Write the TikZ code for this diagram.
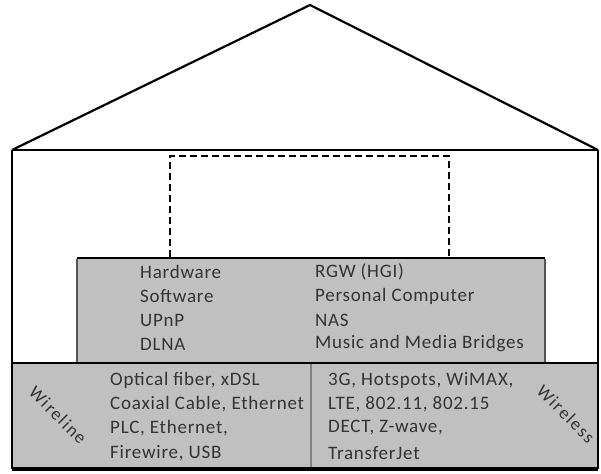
\documentclass[tikz,border=0pt]{standalone}
\usepackage{fontspec}
\setmainfont{Carlito}
\definecolor{boxgray}{HTML}{C0C0C0}
\definecolor{edgegray}{HTML}{555555}
\definecolor{txtgray}{HTML}{333333}
\definecolor{divgray}{HTML}{808080}
\begin{document}
\begin{tikzpicture}[x=1pt,y=-1pt,
  wall/.style={line width=2.2pt,black},
  listtxt/.style={anchor=west,inner sep=0pt,text=txtgray,font=\fontsize{19}{21}\selectfont\addfontfeatures{LetterSpace=4}},
  sidetxt/.style={inner sep=0pt,text=txtgray,font=\fontsize{18}{20}\selectfont\addfontfeatures{LetterSpace=9},rotate=-45}]
\useasboundingbox (0,0) rectangle (601,473);
% coordinates
\coordinate (apex) at (310,5);
\coordinate (rl) at (12,150);
\coordinate (rr) at (598,150);
\coordinate (bl) at (12,469);
\coordinate (br) at (598,469);
% boxes
\fill[boxgray] (12,363) rectangle (598,468);
\fill[boxgray] (77,258) rectangle (545,363);
\draw[edgegray,line width=2pt] (77,259) -- (77,363);
\draw[edgegray,line width=2pt] (545,259) -- (545,363);
\draw[black,line width=1.6pt] (77,258) -- (545,258);
\draw[black,line width=1.6pt] (12,363) -- (598,363);
\draw[divgray,line width=2.5pt] (311,364) -- (311,468);
% house
\draw[wall] (rl) -- (apex) -- (rr);
\draw[wall] (rl) -- (rr);
\draw[wall] (rl) -- (bl);
\draw[wall] (rr) -- (br);
\draw[black,line width=3.5pt] (bl) -- (br);
% dashed rectangle
\draw[line width=2.4pt,dash pattern=on 7pt off 4pt] (170,257) -- (170,156) -- (449,156) -- (449,257);
% upper texts
\node[listtxt] (hw) at (140,272) {Hardware};
\node[listtxt] (sw) at (140,296) {Software};
\node[listtxt] (up) at (140,320) {UPnP};
\node[listtxt] (dl) at (140,344) {DLNA};
\node[listtxt] (rg) at (315,272) {RGW (HGI)};
\node[listtxt] (pc) at (315,296) {Personal Computer};
\node[listtxt] (na) at (315,320) {NAS};
\node[listtxt] (mm) at (315,344) {Music and Media Bridges};
% lower texts
\node[listtxt] (o1) at (110,380) {Optical fiber, xDSL};
\node[listtxt] (o2) at (110,404) {Coaxial Cable, Ethernet};
\node[listtxt] (o3) at (110,428) {PLC, Ethernet,};
\node[listtxt] (o4) at (110,453) {Firewire, USB};
\node[listtxt] (w1) at (328,380) {3G, Hotspots, WiMAX,};
\node[listtxt] (w2) at (328,404) {LTE, 802.11, 802.15};
\node[listtxt] (w3) at (328,428) {DECT, Z-wave,};
\node[listtxt] (w4) at (328,453) {TransferJet};
\node[sidetxt] (wl) at (58,415) {Wireline};
\node[sidetxt] (wr) at (566,414) {Wireless};
\end{tikzpicture}
\end{document}
